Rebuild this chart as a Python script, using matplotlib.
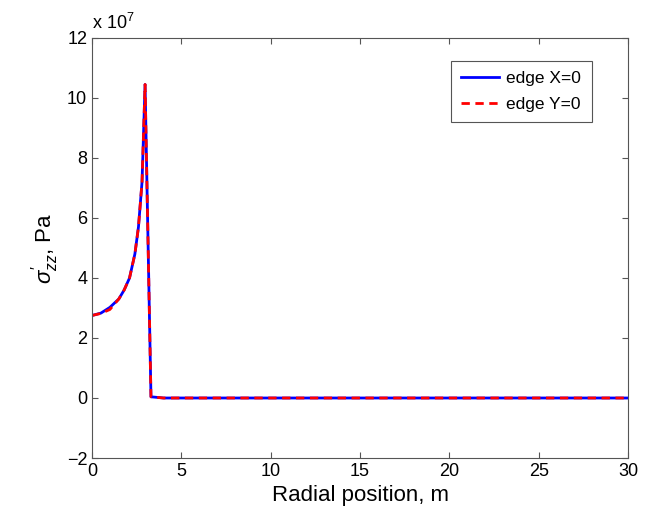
import numpy as np
import matplotlib.pyplot as plt

plt.rcParams['font.family'] = ['Liberation Sans', 'DejaVu Sans']
plt.rcParams['mathtext.fontset'] = 'custom'
plt.rcParams['mathtext.rm'] = 'Liberation Sans'
plt.rcParams['mathtext.it'] = 'Liberation Sans:italic'

# radial positions (m) and stress (Pa)
r = [0, 0.5, 1.0, 1.5, 1.8, 2.1, 2.4, 2.6, 2.8, 2.97, 3.3, 4, 5, 6, 8, 10, 12, 15, 20, 25, 30]
edge_x0 = [2.75e7, 2.83e7, 3.02e7, 3.3e7, 3.6e7, 4.0e7, 4.8e7, 5.7e7, 7.2e7, 10.45e7, 0.04e7,
           0, 0, 0, 0, 0, 0, 0, 0, 0, 0]
edge_y0 = [2.75e7, 2.82e7, 2.95e7, 3.3e7, 3.6e7, 4.0e7, 4.8e7, 5.7e7, 7.2e7, 10.45e7, 0.04e7,
           0, 0, 0, 0, 0, 0, 0, 0, 0, 0]

fig = plt.figure(figsize=(6.46, 5.16), dpi=100)
ax = fig.add_axes([0.1424, 0.1124, 0.830, 0.814])

ax.plot(r, np.array(edge_x0) / 1e7, '-', color='#0000ff', lw=2, label='edge X=0')
ax.plot(r, np.array(edge_y0) / 1e7, '--', color='#ff0000', lw=2, dashes=(3, 2),
        label='edge Y=0')

ax.set_xlim(0, 30)
ax.set_ylim(-2, 12)
ax.set_xticks(range(0, 31, 5))
ax.set_yticks(range(-2, 13, 2))
ax.tick_params(direction='in', top=True, right=True, labelsize=13, length=4,
               color='#555555')
for s in ax.spines.values():
    s.set_color('#555555')
    s.set_linewidth(0.8)

ax.set_xlabel('Radial position, m', fontsize=16)
ax.set_ylabel(r"$\sigma^{\prime}_{zz}$, Pa", fontsize=16)
ax.text(0.0, 1.012, r'x 10$^7$', transform=ax.transAxes, fontsize=13, va='bottom')

leg = ax.legend(loc='upper right', bbox_to_anchor=(0.932, 0.946), fontsize=12.5,
                fancybox=False, framealpha=1, edgecolor='#555555', handlelength=2.2,
                borderaxespad=0, borderpad=0.6, labelspacing=0.6, handletextpad=0.4)
leg.get_frame().set_linewidth(0.8)

fig.savefig('out.png', dpi=100)
